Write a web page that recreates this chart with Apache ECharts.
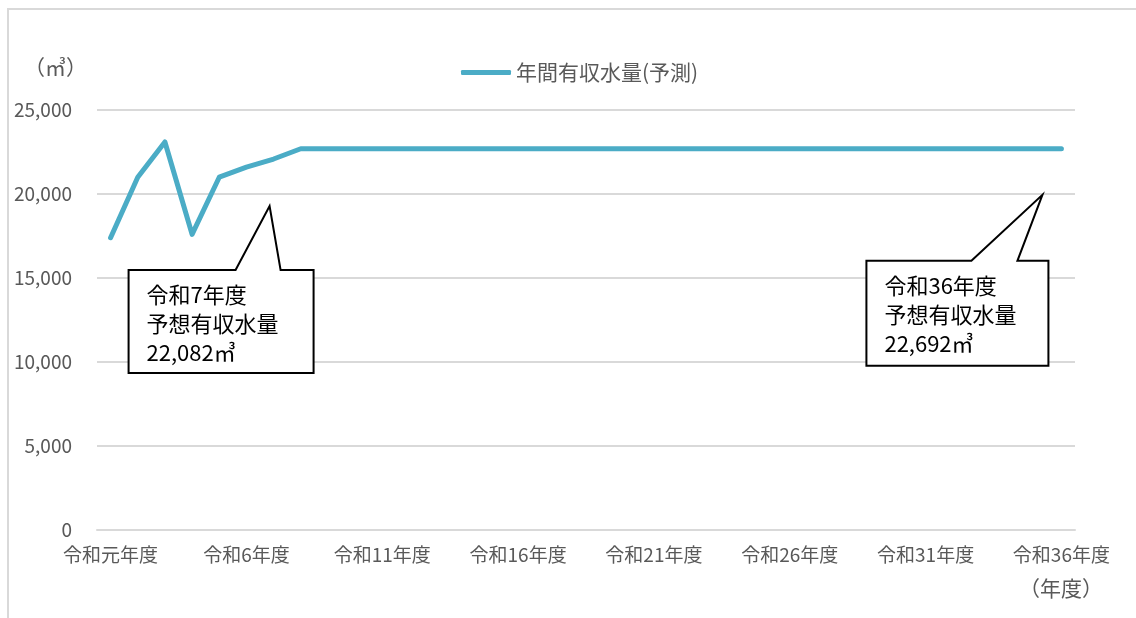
<!DOCTYPE html>
<html>
<head>
<meta charset="utf-8">
<script src="https://cdn.jsdelivr.net/npm/echarts@6/dist/echarts.min.js"></script>
<style>
  html, body { margin: 0; padding: 0; background: #fff; }
  #main { width: 1136px; height: 618px; }
</style>
</head>
<body>
<div id="main"></div>
<script>
// Fiscal years 令和元年度 … 令和36年度
const years = ['令和元年度'];
for (let i = 2; i <= 36; i++) years.push('令和' + i + '年度');

// Annual billed water volume forecast (㎥)
const volume = [
  17400, 21000, 23100, 17600, 21000, 21600, 22082, 22692, 22692, 22692,
  22692, 22692, 22692, 22692, 22692, 22692, 22692, 22692, 22692, 22692,
  22692, 22692, 22692, 22692, 22692, 22692, 22692, 22692, 22692, 22692,
  22692, 22692, 22692, 22692, 22692, 22692
];

const seriesName = '年間有収水量(予測)';
const yTicks = { min: 0, max: 25000, interval: 5000 };

// Callout notes: which year they point at and their text lines
const callouts = [
  { index: 6, lines: ['令和7年度', '予想有収水量', '22,082㎥'],
    box: [-145, 111, 40, 214], base: [-38, 7], apex: [-4, 47] },
  { index: 35, lines: ['令和36年度', '予想有収水量', '22,692㎥'],
    box: [-195, 112, -13, 217], base: [-90, -44], apex: [-19, 46] }
];

const FONT = '"Noto Sans CJK JP", "Noto Sans", sans-serif';
const GRAY = '#595959';

const chart = echarts.init(document.getElementById('main'));

chart.setOption({
  animation: false,
  backgroundColor: '#ffffff',
  textStyle: { fontFamily: FONT },
  grid: { left: 97, right: 61, top: 110, bottom: 88, containLabel: false },
  legend: {
    top: 57,
    left: 456,
    icon: 'roundRect',
    itemWidth: 50,
    itemHeight: 5,
    itemGap: 10,
    textStyle: { fontFamily: FONT, fontSize: 21, color: GRAY },
    data: [seriesName]
  },
  xAxis: {
    type: 'category',
    data: years,
    boundaryGap: true,
    axisLine: { show: true, lineStyle: { color: '#d9d9d9', width: 2 } },
    axisTick: { show: false },
    axisLabel: {
      interval: 4,
      margin: 15,
      fontFamily: FONT,
      fontSize: 19,
      color: GRAY
    },
    splitLine: { show: false }
  },
  yAxis: {
    type: 'value',
    min: yTicks.min,
    max: yTicks.max,
    interval: yTicks.interval,
    axisLine: { show: false },
    axisTick: { show: false },
    axisLabel: {
      margin: 25,
      fontFamily: FONT,
      fontSize: 19,
      color: GRAY,
      formatter: v => v.toLocaleString('en-US')
    },
    splitLine: { lineStyle: { color: '#d9d9d9', width: 2 } }
  },
  series: [{
    name: seriesName,
    type: 'line',
    data: volume,
    symbol: 'none',
    smooth: false,
    lineStyle: { color: '#4bacc6', width: 5, join: 'round', cap: 'round' },
    itemStyle: { color: '#4bacc6' }
  }]
});

// Outer frame, unit labels and the callout notes
function buildGraphics() {
  const g = [
    {
      type: 'polyline',
      shape: { points: [[8, 640], [8, 9], [1140, 9]] },
      style: { stroke: '#d9d9d9', lineWidth: 2, fill: null },
      silent: true
    },
    {
      type: 'text', left: 24, top: 57,
      style: { text: '（㎥）', font: '21px ' + FONT, fill: GRAY }
    },
    {
      type: 'text', left: 1019, top: 578,
      style: { text: '（年度）', font: '21px ' + FONT, fill: GRAY }
    }
  ];
  callouts.forEach(c => {
    const p = chart.convertToPixel({ seriesIndex: 0 }, [c.index, volume[c.index]]);
    const L = p[0] + c.box[0], T = p[1] + c.box[1];
    const R = p[0] + c.box[2], B = p[1] + c.box[3];
    g.push({
      type: 'polygon',
      z: 100,
      shape: {
        points: [
          [L, T], [p[0] + c.base[0], T], [p[0] + c.apex[0], p[1] + c.apex[1]],
          [p[0] + c.base[1], T], [R, T], [R, B], [L, B]
        ]
      },
      style: { fill: '#ffffff', stroke: '#000000', lineWidth: 2 }
    });
    g.push({
      type: 'text',
      z: 101,
      x: L + 18,
      y: T + 10,
      style: {
        text: c.lines.join('\n'),
        font: '22px ' + FONT,
        lineHeight: 29,
        fill: '#000000'
      }
    });
  });
  return g;
}

chart.setOption({ graphic: buildGraphics() });
</script>
</body>
</html>
